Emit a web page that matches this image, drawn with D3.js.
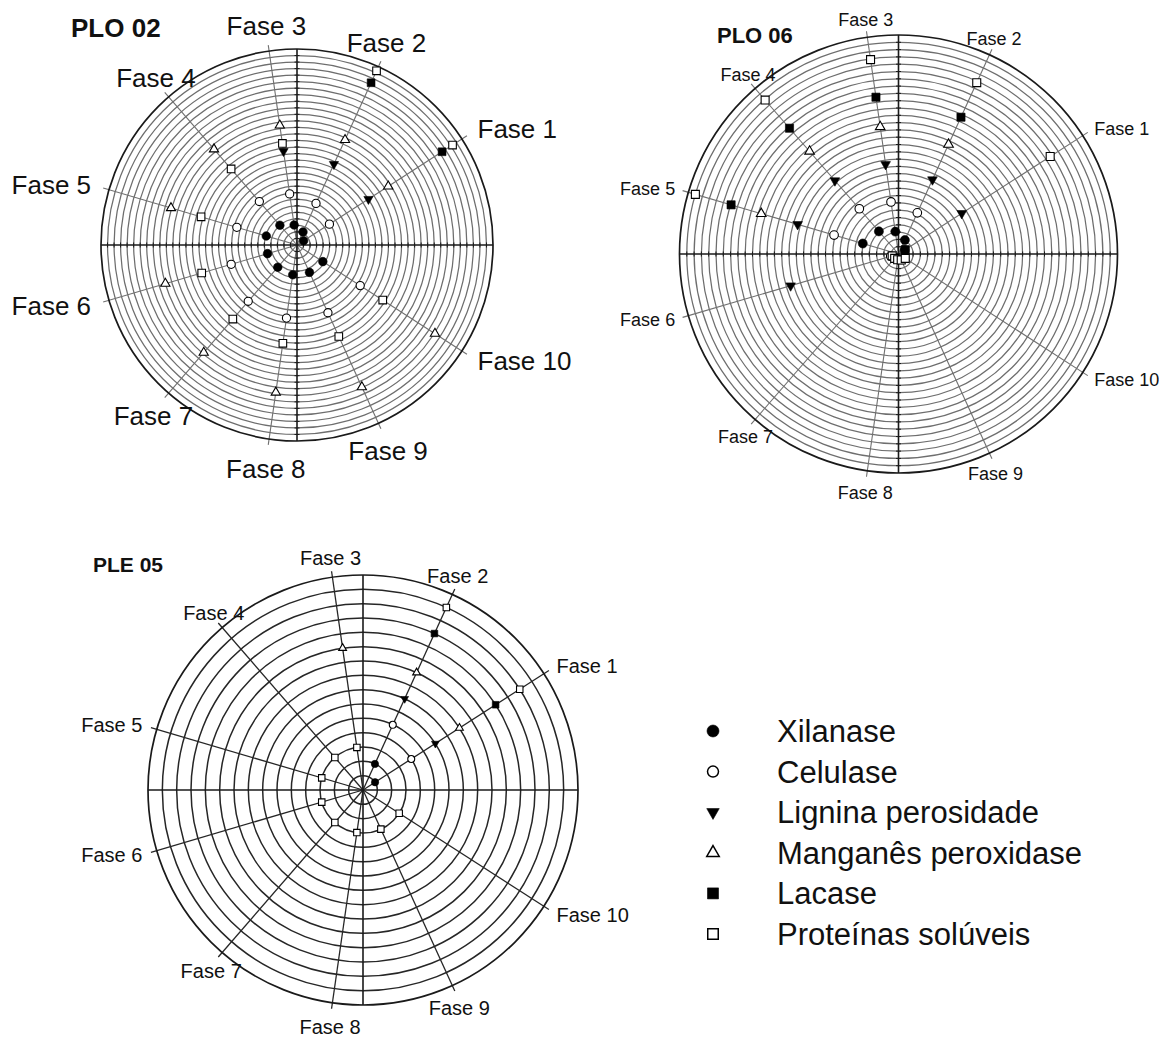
<!DOCTYPE html>
<html>
<head>
<meta charset="utf-8">
<script src="https://cdn.jsdelivr.net/npm/d3@7"></script>
<style>
  body { margin: 0; background: #fff; }
  svg { display: block; }
  text { font-family: "Liberation Sans", Arial, Helvetica, sans-serif; fill: #111; }
</style>
</head>
<body>
<svg id="chart" width="1159" height="1038"></svg>
<script>
// Phase labels (spokes) and enzyme series
const fases = ["Fase 1", "Fase 2", "Fase 3", "Fase 4", "Fase 5", "Fase 6", "Fase 7", "Fase 8", "Fase 9", "Fase 10"];
const enzimas = ["Xilanase", "Celulase", "Lignina perosidade", "Manganês peroxidase", "Lacase", "Proteínas solúveis"];

// PLO 02 — radial values per phase (null = not measured)
const plo02Xilanase   = [1.2, 2.2, 3.1, 4.0, 4.9, 4.7, 4.5, 4.6, 4.6, 4.7];
const plo02Celulase   = [5.9, 7.0, 7.9, 8.8, 9.6, 10.5, 11.4, 11.3, 11.4, 11.5];
const plo02Lignina    = [13.0, 13.6, 14.5, null, null, null, null, null, null, null];
const plo02Manganes   = [16.6, 17.7, 18.5, 19.4, 20.1, 21.0, 21.8, 22.8, 23.9, 25.1];
const plo02Lacase     = [26.4, 27.3, null, null, null, null, null, null, null, null];
const plo02Proteinas  = [28.3, 29.3, 15.7, 15.4, 15.3, 15.2, 15.0, 15.2, 15.4, 15.6];

// PLO 06
const plo06Xilanase   = [1.0, 2.1, 3.1, 4.1, 5.1, null, null, null, null, null];
const plo06Celulase   = [null, 6.2, 7.2, 8.2, 9.2, 1.1, null, null, null, null];
const plo06Lignina    = [10.3, 11.2, 12.4, 13.3, 14.4, 15.4, null, null, null, null];
const plo06Manganes   = [null, 16.5, 17.6, 18.6, 19.6, null, null, null, null, null];
const plo06Lacase     = [1.1, 20.6, 21.7, 22.8, 23.9, null, null, null, null, null];
const plo06Proteinas  = [24.7, 25.8, 26.9, 27.9, 29.0, 0.9, 0.8, 0.8, 0.9, 1.1];

// PLE 05
const ple05Xilanase   = [1, 2, null, null, null, null, null, null, null, null];
const ple05Celulase   = [4, 5, null, null, null, null, null, null, null, null];
const ple05Lignina    = [6, 7, null, null, null, null, null, null, null, null];
const ple05Manganes   = [8, 9, 10, null, null, null, null, null, null, null];
const ple05Lacase     = [11, 12, null, null, null, null, null, null, null, null];
const ple05Proteinas  = [13, 14, 3, 3, 3, 3, 3, 3, 3, 3];

// Marker styles, one per enzyme (same order as enzimas)
const markerStyles = [
  { type: d3.symbolCircle,   filled: true,  rot: 0 },
  { type: d3.symbolCircle,   filled: false, rot: 0 },
  { type: d3.symbolTriangle, filled: true,  rot: 180 },
  { type: d3.symbolTriangle, filled: false, rot: 0 },
  { type: d3.symbolSquare,   filled: true,  rot: 0 },
  { type: d3.symbolSquare,   filled: false, rot: 0 }
];

// symbol area from a nominal width in px
function symbolArea(type, w) {
  if (type === d3.symbolCircle) return Math.PI * (w / 2) * (w / 2);
  if (type === d3.symbolSquare) return w * w;
  return w * w * Math.sqrt(3) / 4;
}
function baseWidth(style) {
  if (style.type === d3.symbolCircle) return style.filled ? 8.6 : 8.2;
  if (style.type === d3.symbolSquare) return style.filled ? 7.8 : 7.6;
  return 9.2;
}

const panels = [
  { title: "PLO 02", cx: 297, cy: 245, R: 196, rings: 30, fs: 26, titleFs: 26, titleX: 71, titleY: 37,
    axisTicks: true, ringColor: "#6e6e6e", ringWidth: 1.25, spokeColor: "#707070", spokeWidth: 1.1, mk: 1.0,
    series: [plo02Xilanase, plo02Celulase, plo02Lignina, plo02Manganes, plo02Lacase, plo02Proteinas] },
  { title: "PLO 06", cx: 898.5, cy: 254, R: 219, rings: 30, fs: 18, titleFs: 22, titleX: 717, titleY: 43,
    axisTicks: true, ringColor: "#6e6e6e", ringWidth: 1.25, spokeColor: "#707070", spokeWidth: 1.1, mk: 1.05,
    series: [plo06Xilanase, plo06Celulase, plo06Lignina, plo06Manganes, plo06Lacase, plo06Proteinas] },
  { title: "PLE 05", cx: 363, cy: 790, R: 215, rings: 15, fs: 20, titleFs: 21, titleX: 93, titleY: 572,
    axisTicks: false, ringColor: "#262626", ringWidth: 1.5, spokeColor: "#262626", spokeWidth: 1.3, mk: 0.85,
    series: [ple05Xilanase, ple05Celulase, ple05Lignina, ple05Manganes, ple05Lacase, ple05Proteinas] }
];

const svg = d3.select("#chart");

// Phase k (1..10) sits at k * 360/11 degrees, counter-clockwise from east
const angle = d3.scaleLinear().domain([0, 11]).range([0, 2 * Math.PI]);

panels.forEach(p => {
  const g = svg.append("g").attr("transform", `translate(${p.cx},${p.cy})`);
  const r = d3.scaleLinear().domain([0, p.rings]).range([0, p.R]);
  const pt = (k, v) => [r(v) * Math.cos(angle(k)), -r(v) * Math.sin(angle(k))];

  // concentric rings
  g.append("g").selectAll("circle")
    .data(d3.range(1, p.rings))
    .join("circle")
    .attr("r", d => r(d))
    .attr("fill", "none")
    .attr("stroke", p.ringColor)
    .attr("stroke-width", p.ringWidth);

  // phase spokes
  g.append("g").selectAll("line")
    .data(fases)
    .join("line")
    .attr("x1", 0).attr("y1", 0)
    .attr("x2", (d, i) => (p.R + 6) * Math.cos(angle(i + 1)))
    .attr("y2", (d, i) => -(p.R + 6) * Math.sin(angle(i + 1)))
    .attr("stroke", p.spokeColor)
    .attr("stroke-width", p.spokeWidth);

  // cartesian axes
  g.append("line").attr("x1", -p.R).attr("x2", p.R).attr("y1", 0).attr("y2", 0)
    .attr("stroke", "#1a1a1a").attr("stroke-width", 1.6);
  g.append("line").attr("y1", -p.R).attr("y2", p.R).attr("x1", 0).attr("x2", 0)
    .attr("stroke", "#1a1a1a").attr("stroke-width", 1.6);

  if (p.axisTicks) {
    const tv = d3.range(1, p.rings).flatMap(d => [d, -d]);
    g.append("g").selectAll("line").data(tv).join("line")
      .attr("x1", d => Math.sign(d) * r(Math.abs(d))).attr("x2", d => Math.sign(d) * r(Math.abs(d)))
      .attr("y1", -2.5).attr("y2", 2.5)
      .attr("stroke", "#1a1a1a").attr("stroke-width", 1);
    g.append("g").selectAll("line").data(tv).join("line")
      .attr("y1", d => Math.sign(d) * r(Math.abs(d))).attr("y2", d => Math.sign(d) * r(Math.abs(d)))
      .attr("x1", -2.5).attr("x2", 2.5)
      .attr("stroke", "#1a1a1a").attr("stroke-width", 1);
  }

  // outer circle
  g.append("circle").attr("r", r(p.rings)).attr("fill", "none")
    .attr("stroke", "#1a1a1a").attr("stroke-width", 1.7);

  // phase labels
  g.append("g").selectAll("text")
    .data(fases)
    .join("text")
    .each(function(d, i) {
      const a = angle(i + 1), c = Math.cos(a), s = Math.sin(a);
      let x, y, anchor;
      if (Math.abs(c) > 0.8) {
        const gap = p.fs * 0.6 + 3;
        x = (p.R + gap) * c; y = -(p.R + gap) * s; anchor = c > 0 ? "start" : "end";
      } else {
        const gap = s > 0 ? p.fs : p.fs + 4;
        x = (p.R + gap) * c * 0.97; y = -(p.R + gap) * s; anchor = "middle";
      }
      d3.select(this).attr("x", x).attr("y", y + 0.36 * p.fs).attr("text-anchor", anchor);
    })
    .attr("font-size", p.fs)
    .text(d => d);

  // series markers
  p.series.forEach((vals, si) => {
    const st = markerStyles[si];
    const w = baseWidth(st) * p.mk;
    const sym = d3.symbol().type(st.type).size(symbolArea(st.type, w));
    g.append("g").selectAll("path")
      .data(vals.map((v, k) => ({ v, k: k + 1 })).filter(d => d.v != null))
      .join("path")
      .attr("d", sym)
      .attr("transform", d => { const [x, y] = pt(d.k, d.v); return `translate(${x},${y}) rotate(${st.rot})`; })
      .attr("fill", st.filled ? "#000" : "#fff")
      .attr("stroke", "#000")
      .attr("stroke-width", st.filled ? 0.6 : 1.1);
  });

  // panel title
  svg.append("text").attr("x", p.titleX).attr("y", p.titleY)
    .attr("font-size", p.titleFs).attr("font-weight", "bold").text(p.title);
});

// legend
const legend = svg.append("g").attr("transform", "translate(713,731)");
const legendRow = d3.scaleLinear().domain([0, 1]).range([0, 40.6]);
const legendWidths = [12, 11, 12.5, 12.5, 11, 10.5];
enzimas.forEach((name, i) => {
  const st = markerStyles[i];
  const row = legend.append("g").attr("transform", `translate(0,${legendRow(i)})`);
  row.append("path")
    .attr("d", d3.symbol().type(st.type).size(symbolArea(st.type, legendWidths[i])))
    .attr("transform", `rotate(${st.rot})`)
    .attr("fill", st.filled ? "#000" : "#fff")
    .attr("stroke", "#000")
    .attr("stroke-width", st.filled ? 0.6 : 1.5);
  row.append("text").attr("x", 64).attr("y", 11).attr("font-size", 31).text(name);
});
</script>
</body>
</html>
